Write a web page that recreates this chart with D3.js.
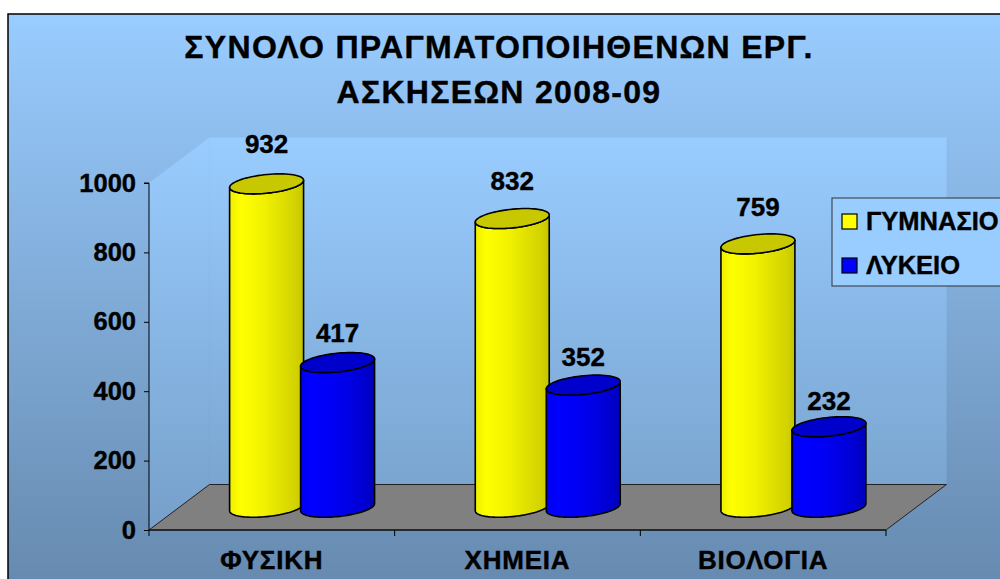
<!DOCTYPE html>
<html>
<head>
<meta charset="utf-8">
<script src="https://cdn.jsdelivr.net/npm/d3@7"></script>
<style>
  html, body { margin: 0; padding: 0; background: #fff; }
  svg { display: block; font-family: 'Liberation Sans', Arial, sans-serif; font-weight: bold; }
  svg text { stroke: #000; stroke-width: 0.4px; fill: #000; }
</style>
</head>
<body>
<div id="chart"></div>
<script>
const categories = ['ΦΥΣΙΚΗ', 'ΧΗΜΕΙΑ', 'ΒΙΟΛΟΓΙΑ'];
const seriesNames = ['ΓΥΜΝΑΣΙΟ', 'ΛΥΚΕΙΟ'];
const gymnasio = [932, 832, 759];
const lykeio = [417, 352, 232];
const yTicks = [0, 200, 400, 600, 800, 1000];
const titleLines = ['ΣΥΝΟΛΟ ΠΡΑΓΜΑΤΟΠΟΙΗΘΕΝΩΝ ΕΡΓ.', 'ΑΣΚΗΣΕΩΝ 2008-09'];

const width = 1000;
const height = 579;

// oblique depth vector of the floor (front -> back)
const DX = 60.5;
const DY = -45.5;

const x = d3.scaleBand().domain(categories).range([149, 886]);
const xs = d3.scaleBand().domain(seriesNames).range([0, x.bandwidth()]).paddingInner(0).paddingOuter(0.73);
const y = d3.scaleLinear().domain([0, 1000]).range([530, 183]);
// data labels sit a bit higher for tall bars (perspective in the original)
const yLabel = d3.scaleLinear().domain([0, 1000]).range([y(0) - 35, y(1000) - 55]);

const rx = 34.5;     // cylinder half width
const depthHalf = 0.22; // cylinder half depth (fraction of floor depth)

const svg = d3.select('#chart').append('svg')
    .attr('width', width)
    .attr('height', height);

const defs = svg.append('defs');

const bg = defs.append('linearGradient').attr('id', 'bg')
    .attr('gradientUnits', 'userSpaceOnUse')
    .attr('x1', 0).attr('y1', 14).attr('x2', 0).attr('y2', 600);
bg.append('stop').attr('offset', 0).attr('stop-color', '#99ccff');
bg.append('stop').attr('offset', 1).attr('stop-color', '#6588ad');

const wall = defs.append('linearGradient').attr('id', 'wall')
    .attr('gradientUnits', 'userSpaceOnUse')
    .attr('x1', 0).attr('y1', y(1000) + DY).attr('x2', 0).attr('y2', y(0));
wall.append('stop').attr('offset', 0).attr('stop-color', '#99ccff');
wall.append('stop').attr('offset', 1).attr('stop-color', '#76a0ca');

const shades = {
    'ΓΥΜΝΑΣΙΟ': { stops: ['#eeee00', '#ffff00', '#f2f200', '#e0e000', '#d2d200', '#c4c400'], top: '#c8c800', swatch: '#ffff00' },
    'ΛΥΚΕΙΟ': { stops: ['#0000ee', '#0000ff', '#0000f4', '#0000e0', '#0000cc', '#0000b4'], top: '#0000cc', swatch: '#0000ff' }
};
const stopOffsets = [0, 0.15, 0.45, 0.7, 0.9, 1];

seriesNames.forEach((s, i) => {
    const g = defs.append('linearGradient').attr('id', `body${i}`)
        .attr('x1', 0).attr('y1', 0).attr('x2', 1).attr('y2', 0);
    shades[s].stops.forEach((c, k) => g.append('stop').attr('offset', stopOffsets[k]).attr('stop-color', c));
});

// chart area
svg.append('rect')
    .attr('x', 8).attr('y', 14)
    .attr('width', width + 20).attr('height', height + 20)
    .attr('fill', 'url(#bg)')
    .attr('stroke', '#000')
    .attr('stroke-width', 1.5);

// walls
const x0 = x.range()[0];
const x1 = x.range()[1];
svg.append('path')
    .attr('d', `M${x0},${y(1000)}L${x0 + DX},${y(1000) + DY}L${x0 + DX},${y(0) + DY}L${x0},${y(0)}Z`)
    .attr('fill', 'url(#wall)');
svg.append('path')
    .attr('d', `M${x0 + DX},${y(1000) + DY}L${x1 + DX},${y(1000) + DY}L${x1 + DX},${y(0) + DY}L${x0 + DX},${y(0) + DY}Z`)
    .attr('fill', 'url(#wall)');

// floor
svg.append('path')
    .attr('d', `M${x0},${y(0)}L${x1},${y(0)}L${x1 + DX},${y(0) + DY}L${x0 + DX},${y(0) + DY}Z`)
    .attr('fill', '#808080')
    .attr('stroke', '#222')
    .attr('stroke-width', 1);

// axes
const yAxis = svg.append('g')
    .attr('transform', `translate(${x0},0)`)
    .call(d3.axisLeft(y).tickValues(yTicks).tickFormat(d3.format('d')).tickSize(5).tickPadding(8));
yAxis.select('.domain').attr('stroke', '#000').attr('d', `M-5,${y(1000)}H0V${y(0)}`);
yAxis.selectAll('.tick line').attr('stroke', '#000');
yAxis.selectAll('.tick text')
    .attr('font-size', 25.5)
    .attr('font-weight', 'bold')
    .attr('font-family', "'Liberation Sans', Arial, sans-serif")
    .attr('fill', '#000');

const xAxis = svg.append('g')
    .attr('transform', `translate(0,${y(0)})`);
xAxis.append('line')
    .attr('x1', x0).attr('x2', x1)
    .attr('stroke', '#000');
xAxis.selectAll('.xtick')
    .data(categories.map(c => x(c)).concat([x1]))
    .join('line')
    .attr('x1', d => d).attr('x2', d => d)
    .attr('y1', 0).attr('y2', 6)
    .attr('stroke', '#000');
xAxis.selectAll('text')
    .data(categories)
    .join('text')
    .attr('x', d => x(d) + x.bandwidth() / 2)
    .attr('y', 39)
    .attr('text-anchor', 'middle')
    .attr('font-size', 26)
    .attr('letter-spacing', 0.8)
    .text(d => d);

// cylinders
const phi = Math.atan2(depthHalf * DX, rx);
const ellipsePt = (cx, cy, t) => [
    cx + rx * Math.cos(t) + depthHalf * DX * Math.sin(t),
    cy + depthHalf * DY * Math.sin(t)
];
const arc = (cx, cy, t0, t1, n = 48) => d3.range(n + 1).map(k => ellipsePt(cx, cy, t0 + (t1 - t0) * k / n));

const bars = [];
categories.forEach((c, i) => {
    seriesNames.forEach((s, j) => {
        const v = (j === 0 ? gymnasio : lykeio)[i];
        bars.push({ cat: c, series: s, idx: j, value: v });
    });
});

const barG = svg.append('g');
const line = d3.line();

bars.forEach(b => {
    const cxFront = x(b.cat) + xs(b.series) + xs.bandwidth() / 2;
    const cx = cxFront + DX / 2;
    const cyBase = y(0) + DY / 2;
    const cyTop = y(b.value) + DY / 2;
    const bottomArc = arc(cx, cyBase, phi + Math.PI, phi + 2 * Math.PI);
    const topArc = arc(cx, cyTop, phi + 2 * Math.PI, phi + Math.PI);
    const body = bottomArc.concat(topArc);
    const g = barG.append('g');
    g.append('path')
        .attr('d', line(body) + 'Z')
        .attr('fill', `url(#body${b.idx})`)
        .attr('stroke', '#000')
        .attr('stroke-width', 1.6)
        .attr('stroke-linejoin', 'round');
    g.append('path')
        .attr('d', line(arc(cx, cyTop, 0, 2 * Math.PI, 72)) + 'Z')
        .attr('fill', shades[b.series].top)
        .attr('stroke', '#000')
        .attr('stroke-width', 1.6);
    b.cx = cx;
});

// data labels
svg.append('g').selectAll('text')
    .data(bars)
    .join('text')
    .attr('x', d => d.cx)
    .attr('y', d => yLabel(d.value))
    .attr('text-anchor', 'middle')
    .attr('font-size', 26)
    .text(d => d.value);

// title
svg.append('g').selectAll('text')
    .data(titleLines)
    .join('text')
    .attr('x', 499)
    .attr('y', (d, i) => 58 + i * 45)
    .attr('text-anchor', 'middle')
    .attr('font-size', 32)
    .attr('letter-spacing', 1.3)
    .text(d => d);

// legend
const legend = svg.append('g').attr('transform', 'translate(832,198)');
legend.append('rect')
    .attr('width', 200).attr('height', 88)
    .attr('fill', '#99ccff')
    .attr('stroke', '#333')
    .attr('stroke-width', 1);
const items = legend.selectAll('g.item')
    .data(seriesNames)
    .join('g')
    .attr('class', 'item')
    .attr('transform', (d, i) => `translate(10,${16 + i * 44})`);
items.append('rect')
    .attr('width', 15).attr('height', 15)
    .attr('fill', d => shades[d].swatch)
    .attr('stroke', '#000')
    .attr('stroke-width', 1.2);
items.append('text')
    .attr('x', 24)
    .attr('y', 16)
    .attr('font-size', 25.5)
    .text(d => d);
</script>
</body>
</html>
